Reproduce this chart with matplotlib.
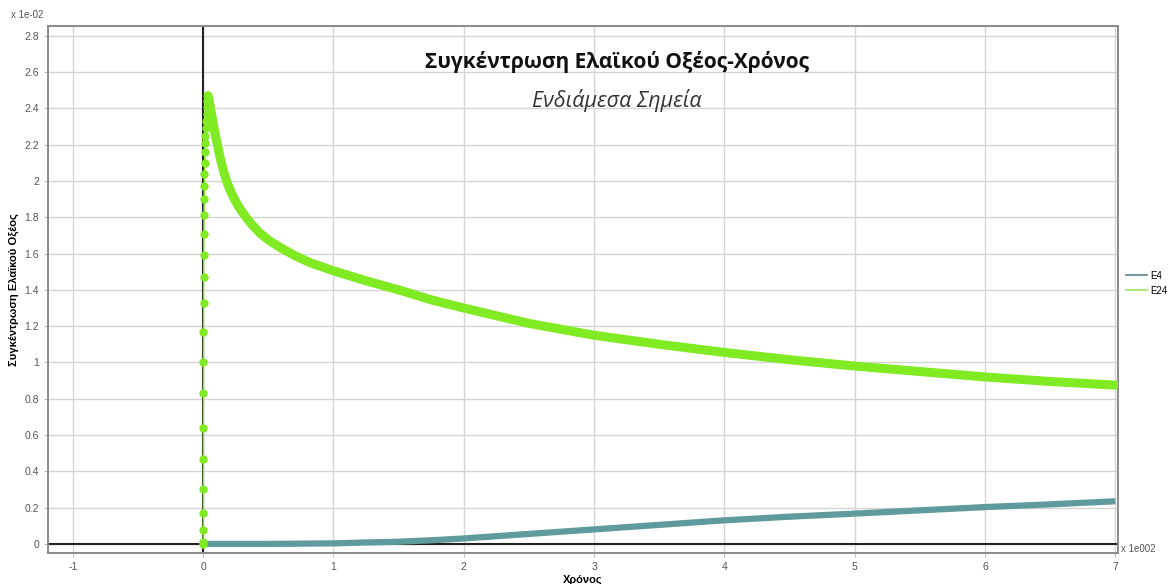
import matplotlib.pyplot as plt
from matplotlib.lines import Line2D

# time in units of 1e2, concentration in units of 1e-2
e24_rise_t = [0.001, 0.001, 0.001, 0.002, 0.002, 0.002, 0.002, 0.003, 0.003, 0.003,
              0.004, 0.004, 0.005, 0.006, 0.007, 0.008, 0.009, 0.010, 0.012, 0.014,
              0.016, 0.018, 0.021, 0.024, 0.027, 0.030, 0.034]
e24_rise_c = [0.0, 0.013, 0.077, 0.17, 0.30, 0.468, 0.64, 0.83, 1.0, 1.17,
              1.33, 1.47, 1.59, 1.71, 1.81, 1.90, 1.97, 2.04, 2.10, 2.16,
              2.21, 2.25, 2.29, 2.33, 2.37, 2.41, 2.44]
e24_t = [0.038, 0.05, 0.065, 0.08, 0.095, 0.11, 0.13, 0.155, 0.18, 0.21, 0.24, 0.28,
         0.33, 0.38, 0.44, 0.51, 0.6, 0.7, 0.82, 1.0, 1.25, 1.5, 1.75, 2.0, 2.5, 3.0,
         3.5, 4.0, 4.5, 5.0, 5.5, 6.0, 6.5, 7.0]
e24_c = [2.47, 2.43, 2.37, 2.31, 2.25, 2.20, 2.13, 2.06, 2.00, 1.945, 1.90, 1.85,
         1.80, 1.755, 1.71, 1.67, 1.63, 1.59, 1.55, 1.505, 1.45, 1.40, 1.345, 1.30,
         1.215, 1.15, 1.10, 1.055, 1.015, 0.98, 0.95, 0.92, 0.895, 0.875]

e4_t = [0.02, 0.5, 1.0, 1.25, 1.5, 1.75, 2.0, 2.5, 3.0, 3.5, 4.0, 4.5, 5.0, 5.5,
        6.0, 6.5, 7.0]
e4_c = [0.0, 0.0, 0.003, 0.008, 0.012, 0.02, 0.03, 0.055, 0.08, 0.105, 0.13, 0.15,
        0.167, 0.185, 0.203, 0.218, 0.235]

x_ticks = list(range(-1, 8))
y_ticks = [i / 5 for i in range(15)]

c_e4 = '#5f9b9c'
c_e24 = '#80ea22'

plt.rcParams['font.family'] = ['Liberation Sans', 'DejaVu Sans']

fig = plt.figure(figsize=(11.73, 5.84), dpi=100)
ax = fig.add_axes([0.0409, 0.0531, 0.9122, 0.9024])

ax.set_xlim(-1.19, 7.02)
ax.set_ylim(-0.05, 2.854)
ax.set_xticks(x_ticks)
ax.set_yticks(y_ticks)
ax.set_xticklabels([f'{v:g}' for v in x_ticks])
ax.set_yticklabels([f'{v:g}' for v in y_ticks])
ax.grid(True, color='#d4d4d4', lw=1)
ax.set_axisbelow(True)
ax.tick_params(labelsize=7.5, labelcolor='#555555', color='#bbbbbb', length=3)
for s in ax.spines.values():
    s.set_color('#8a8a8a')
    s.set_linewidth(1.4)

# coordinate axes through the origin
ax.axhline(0, color='#222222', lw=1.5, zorder=2)
ax.axvline(0, color='#222222', lw=1.5, zorder=2)

ax.plot(e4_t, e4_c, color=c_e4, lw=4.5, solid_capstyle='butt', zorder=3)
ax.plot(e24_rise_t + [e24_t[0]], e24_rise_c + [e24_c[0]], color=c_e24, lw=1.0,
        marker='o', ms=5, zorder=4)
ax.plot(e24_t, e24_c, color=c_e24, lw=6.5, solid_capstyle='round',
        solid_joinstyle='round', zorder=4)

fig.text(0.526, 0.893, 'Συγκέντρωση Ελαϊκού Οξέος-Χρόνος', ha='center', va='center',
         fontsize=15, fontweight='bold', family='Open Sans', color='#111111')
fig.text(0.526, 0.828, 'Ενδιάμεσα Σημεία', ha='center', va='center',
         fontsize=15.5, style='italic', family='Open Sans', color='#333333')

ax.set_xlabel('Χρόνος', fontsize=8, fontweight='bold', labelpad=2)
ax.set_ylabel('Συγκέντρωση Ελαϊκού Οξέος', fontsize=8, fontweight='bold')
ax.yaxis.set_label_coords(-0.027, 0.5)
fig.text(0.009, 0.975, 'x 1e-02', fontsize=7, color='#555555', va='center')
fig.text(0.956, 0.06, 'x 1e002', fontsize=7, color='#555555', va='center')

handles = [Line2D([], [], color='#6b8f97', lw=1.3),
           Line2D([], [], color='#a6e86a', lw=1.3)]
ax.legend(handles, ['E4', 'E24'], loc='center left', bbox_to_anchor=(1.002, 0.512),
          frameon=False, fontsize=7, handlelength=2.2, handletextpad=0.3,
          labelspacing=0.5, borderaxespad=0.2)

fig.savefig('out.png', dpi=100)
